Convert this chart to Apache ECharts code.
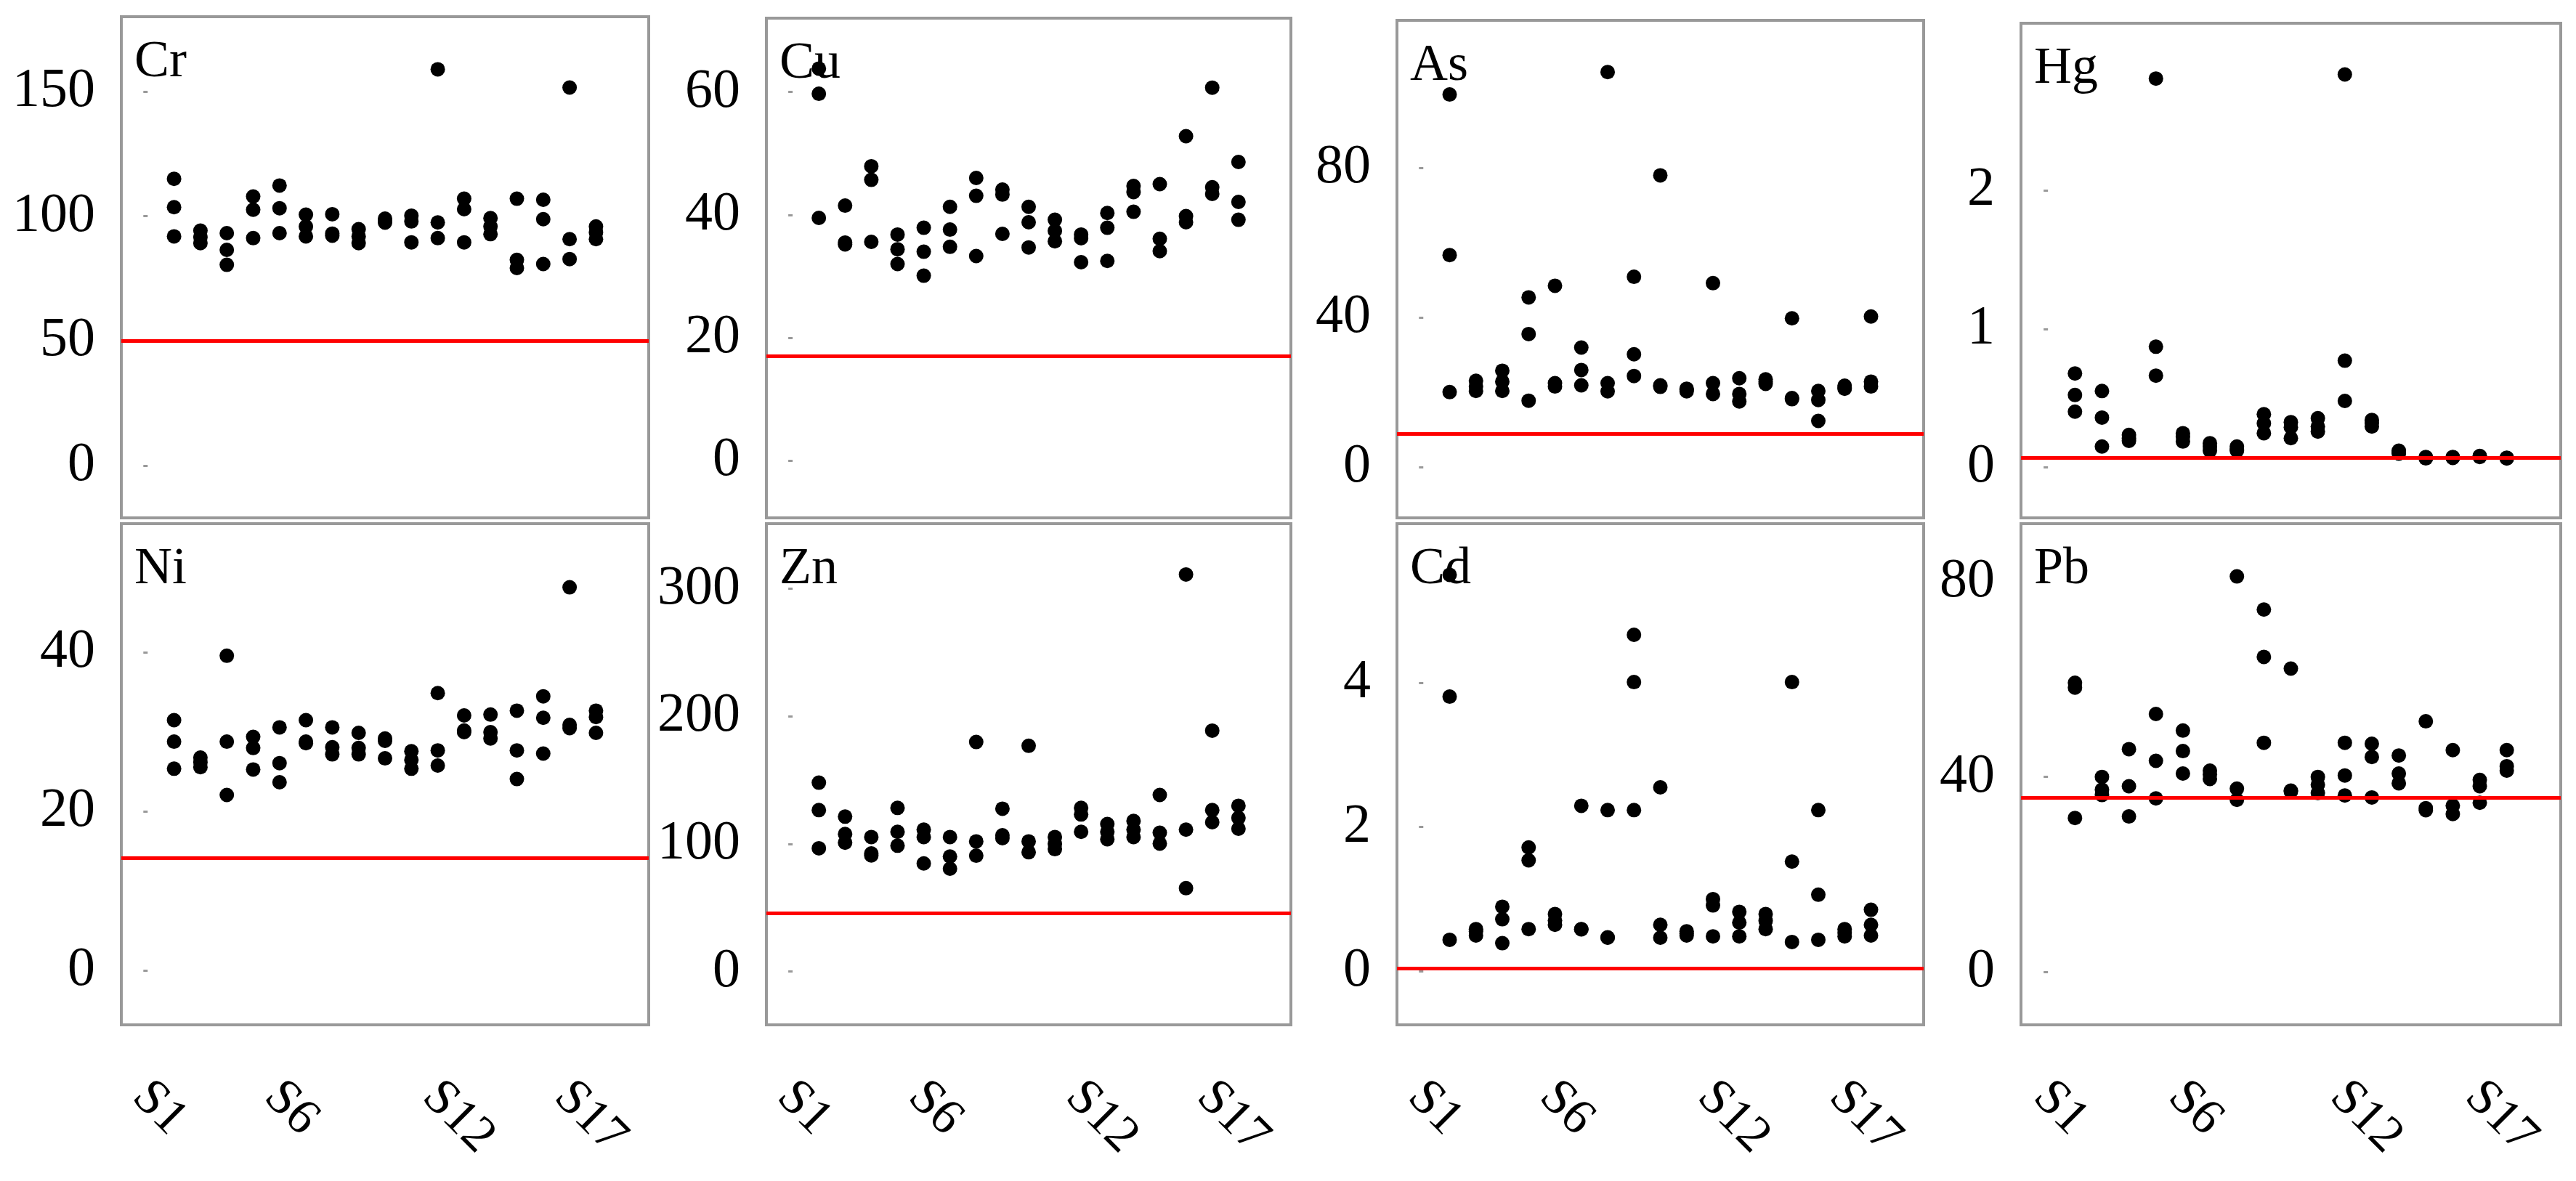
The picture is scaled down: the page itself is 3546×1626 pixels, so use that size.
<!DOCTYPE html>
<html>
<head>
<meta charset="utf-8">
<script src="https://cdn.jsdelivr.net/npm/echarts@6/dist/echarts.min.js"></script>
<style>
html, body { margin: 0; padding: 0; background: #fff; }
#chart { width: 3546px; height: 1626px; }
</style>
</head>
<body>
<div id="chart"></div>
<script>
// sampling sites, 3 samples each
const sites = ["S1", "S2", "S3", "S4", "S5", "S6", "S7", "S8", "S9", "S10", "S11", "S12", "S13", "S14", "S15", "S16", "S17"];
const siteLabels = [1, 6, 12, 17];

const cr = [[115.0, 103.6, 91.9], [94.2, 91.6, 89.2], [93.2, 86.5, 80.5], [107.9, 102.6, 91.2], [112.3, 103.2, 93.2], [100.6, 95.9, 91.9], [100.8, 93.0, 92.2], [94.8, 91.9, 89.2], [99.0, 98.2, 97.4], [100.2, 97.9, 89.5], [158.9, 97.5, 91.2], [107.0, 102.8, 89.5], [99.2, 95.9, 92.8], [107.0, 82.5, 79.2], [106.6, 98.8, 80.8], [151.6, 90.8, 82.8], [95.9, 93.5, 90.8]];
const cu = [[63.8, 59.7, 39.5], [41.5, 35.5, 35.2], [47.9, 45.7, 35.6], [36.8, 34.4, 32.0], [37.9, 34.0, 30.1], [41.3, 37.6, 34.8], [46.0, 43.1, 33.3], [44.1, 43.3, 36.9], [41.3, 38.8, 34.7], [39.2, 37.4, 35.7], [36.8, 36.2, 32.3], [40.3, 37.9, 32.5], [44.7, 43.7, 40.5], [45.0, 36.1, 34.1], [52.8, 39.8, 38.8], [60.7, 44.5, 43.4], [48.6, 42.1, 39.2]];
const asv = [[99.6, 56.7, 20.1], [23.1, 21.6, 20.4], [25.8, 22.9, 20.4], [45.4, 35.6, 17.8], [48.5, 22.5, 21.6], [32.0, 26.0, 21.9], [105.6, 22.5, 20.3], [50.9, 30.2, 24.4], [78.0, 21.9, 21.5], [21.0, 20.7, 20.3], [49.2, 22.5, 19.6], [23.8, 19.6, 17.6], [23.5, 22.9, 22.3], [39.8, 18.5, 18.2], [20.4, 18.0, 12.4], [21.8, 21.3, 21.0], [40.3, 22.9, 21.6]];
const hg = [[0.679, 0.523, 0.403], [0.552, 0.360, 0.151], [0.235, 0.21, 0.192], [2.81, 0.872, 0.663], [0.247, 0.22, 0.187], [0.175, 0.15, 0.120], [0.151, 0.13, 0.120], [0.384, 0.319, 0.247], [0.327, 0.29, 0.211], [0.355, 0.295, 0.259], [2.84, 0.771, 0.480], [0.343, 0.32, 0.295], [0.12, 0.11, 0.10], [0.075, 0.07, 0.065], [0.075, 0.072, 0.068], [0.082, 0.079, 0.075], [0.07, 0.067, 0.064]];
const ni = [[31.5, 28.8, 25.4], [26.8, 26.2, 25.6], [39.6, 28.8, 22.1], [29.4, 28.0, 25.3], [30.6, 26.1, 23.7], [31.5, 28.8, 28.6], [30.6, 28.1, 27.2], [29.9, 28.0, 27.2], [29.2, 28.9, 26.7], [27.6, 26.5, 25.4], [34.9, 27.7, 25.8], [32.1, 30.2, 30.0], [32.2, 30.0, 29.2], [32.7, 27.7, 24.1], [34.5, 31.8, 27.3], [48.2, 30.9, 30.5], [32.7, 31.9, 29.9]];
const zn = [[148.0, 126.5, 96.6], [121.4, 107.8, 101.0], [105.4, 92.5, 91.0], [128.2, 109.5, 98.6], [111.2, 105.4, 84.7], [105.4, 90.1, 80.6], [179.9, 102.0, 90.8], [127.6, 106.8, 104.5], [176.9, 102.0, 93.5], [105.4, 100.0, 95.9], [128.2, 123.1, 109.5], [115.6, 109.5, 103.7], [118.0, 111.2, 105.4], [138.4, 108.8, 100.3], [311.2, 111.2, 65.3], [188.8, 126.5, 117.0], [129.9, 120.4, 111.9]];
const cd = [[5.50, 3.81, 0.435], [0.584, 0.55, 0.495], [0.894, 0.721, 0.388], [1.717, 1.538, 0.584], [0.793, 0.703, 0.644], [2.295, 0.584, 0.58], [2.235, 0.47, 0.465], [4.668, 4.012, 2.235], [2.551, 0.644, 0.465], [0.554, 0.52, 0.495], [1.0, 0.912, 0.483], [0.823, 0.674, 0.483], [0.793, 0.70, 0.584], [4.012, 1.520, 0.405], [2.235, 1.061, 0.435], [0.584, 0.53, 0.483], [0.852, 0.644, 0.495]];
const pb = [[59.3, 58.3, 31.6], [40.0, 37.4, 36.3], [45.7, 38.1, 31.9], [52.9, 43.3, 35.6], [49.5, 45.3, 40.7], [41.3, 40.5, 39.6], [81.1, 37.6, 35.3], [74.3, 64.6, 47.0], [62.2, 37.2, 37.0], [40.0, 38.4, 36.7], [47.0, 40.3, 36.2], [46.8, 44.1, 35.8], [44.4, 40.7, 38.7], [51.4, 33.6, 33.2], [45.5, 34.1, 32.4], [39.4, 38.1, 34.7], [45.5, 42.2, 41.3]];

// panel order: top row then bottom row
const elements = ["Cr", "Cu", "As", "Hg", "Ni", "Zn", "Cd", "Pb"];
const values = [cr, cu, asv, hg, ni, zn, cd, pb];
const thresholds = [50, 17, 9, 0.065, 14.2, 46, 0.04, 35.8];
const yTicks = [[0, 50, 100, 150], [0, 20, 40, 60], [0, 40, 80], [0, 1, 2], [0, 20, 40], [0, 100, 200, 300], [0, 2, 4], [0, 40, 80]];
const yMin = [-21, -9.3, -13.5, -0.365, -6.8, -41.8, -0.745, -10.8];
const yMax = [180, 72, 119.4, 3.21, 56.2, 351, 6.21, 91.9];

// layout (px)
const colLeft = [167, 1055, 1923, 2782];
const colWidth = [726, 722, 725, 743];
const rowTop = [[23, 25, 28, 32], [721, 721, 721, 721]];
const rowBottom = [713, 1411];

const FONT = "'Liberation Serif', 'Times New Roman', serif";
const GRAY = "#999";

let grids = [], xAxes = [], yAxes = [], series = [], titles = [];

elements.forEach(function (name, i) {
  const row = Math.floor(i / 4), col = i % 4;
  const top = rowTop[row][col];
  grids.push({
    left: colLeft[col], top: top, width: colWidth[col], height: rowBottom[row] - top,
    show: true, borderColor: GRAY, borderWidth: 4, backgroundColor: "#fff",
    outerBoundsMode: "none", containLabel: false
  });
  xAxes.push({
    gridIndex: i, type: "value", min: -1, max: 19,
    axisLine: { show: false }, axisTick: { show: false }, splitLine: { show: false },
    axisLabel: row === 1 ? {
      show: true, customValues: siteLabels,
      formatter: function (v) { return sites[v - 1]; },
      rotate: -45, align: "left", verticalAlign: "top",
      padding: [31, 0, 0, 0], lineHeight: 70, margin: 42,
      fontSize: 70, fontFamily: FONT, color: "#000"
    } : { show: false }
  });
  yAxes.push({
    gridIndex: i, type: "value", min: yMin[i], max: yMax[i],
    axisLine: { show: false }, splitLine: { show: false },
    axisTick: { show: true, customValues: yTicks[i], length: 6, lineStyle: { color: GRAY, width: 3 } },
    axisLabel: { customValues: yTicks[i], fontSize: 76, fontFamily: FONT, color: "#000", margin: 36 }
  });
  let pts = [];
  values[i].forEach(function (triple, s) {
    triple.forEach(function (v) { pts.push([s + 1, v]); });
  });
  series.push({
    type: "scatter", xAxisIndex: i, yAxisIndex: i, data: pts,
    symbol: "circle", symbolSize: 20, itemStyle: { color: "#000", opacity: 1 },
    z: 3,
    markLine: {
      silent: true, symbol: "none", label: { show: false },
      lineStyle: { color: "#ff0000", width: 5, type: "solid" },
      data: [{ yAxis: thresholds[i] }]
    }
  });
  titles.push({
    text: name, left: colLeft[col] + 18, top: top + 27, padding: 0,
    textStyle: { fontSize: 72, fontFamily: FONT, fontWeight: "normal", color: "#000" }
  });
});

const chart = echarts.init(document.getElementById("chart"));
chart.setOption({
  animation: false,
  backgroundColor: "#fff",
  title: titles,
  grid: grids,
  xAxis: xAxes,
  yAxis: yAxes,
  series: series
});
</script>
</body>
</html>
